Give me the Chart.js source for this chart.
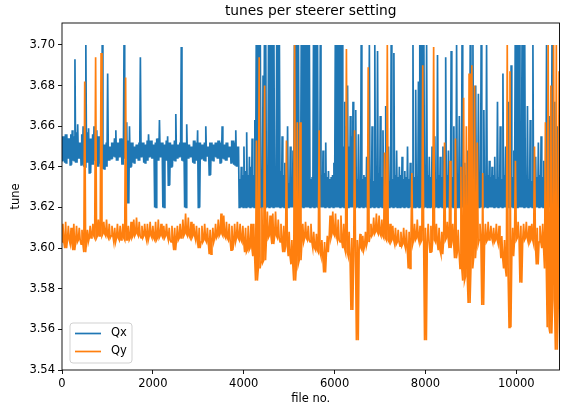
<!DOCTYPE html>
<html>
<head>
<meta charset="utf-8">
<title>tunes per steerer setting</title>
<script src="https://cdn.jsdelivr.net/npm/chart.js@4/dist/chart.umd.min.js"></script>
<style>
  html, body { margin: 0; padding: 0; background: #fff; }
  canvas { display: block; }
</style>
</head>
<body>
<canvas id="tuneChart" width="562" height="407"></canvas>
<script>
// Each entry covers a block of FILE_STEP files: lowest and highest tune seen in it.
const FILE_STEP = 60;
const FILE_MAX = 10950;

const qxMin = [
  3.643, 3.642, 3.644, 3.641, 3.643, 3.642, 3.644, 3.641, 3.640, 3.642,
  3.637, 3.641, 3.643, 3.640, 3.642, 3.639, 3.640, 3.643, 3.644, 3.645,
  3.643, 3.645, 3.641, 3.644, 3.622, 3.640, 3.642, 3.644, 3.643, 3.645,
  3.642, 3.643, 3.645, 3.644, 3.620, 3.643, 3.645, 3.620, 3.643, 3.631,
  3.640, 3.643, 3.644, 3.645, 3.643, 3.620, 3.644, 3.645, 3.642, 3.643,
  3.620, 3.644, 3.643, 3.645, 3.636, 3.643, 3.645, 3.644, 3.642, 3.644,
  3.643, 3.645, 3.642, 3.641, 3.640, 3.620, 3.620, 3.620, 3.620, 3.620,
  3.620, 3.620, 3.620, 3.620, 3.620, 3.620, 3.620, 3.620, 3.620, 3.620,
  3.620, 3.620, 3.620, 3.620, 3.620, 3.620, 3.620, 3.620, 3.620, 3.620,
  3.620, 3.620, 3.620, 3.620, 3.620, 3.620, 3.620, 3.620, 3.620, 3.620,
  3.620, 3.620, 3.620, 3.620, 3.620, 3.620, 3.620, 3.620, 3.620, 3.620,
  3.620, 3.620, 3.620, 3.620, 3.620, 3.620, 3.620, 3.620, 3.620, 3.620,
  3.620, 3.620, 3.620, 3.620, 3.620, 3.620, 3.620, 3.620, 3.620, 3.620,
  3.620, 3.620, 3.620, 3.620, 3.620, 3.620, 3.620, 3.620, 3.620, 3.620,
  3.620, 3.620, 3.620, 3.620, 3.620, 3.620, 3.620, 3.620, 3.620, 3.620,
  3.620, 3.620, 3.620, 3.620, 3.620, 3.620, 3.620, 3.620, 3.620, 3.620,
  3.620, 3.620, 3.620, 3.620, 3.620, 3.620, 3.620, 3.620, 3.620, 3.620,
  3.620, 3.620, 3.620, 3.620, 3.620, 3.620, 3.620, 3.620, 3.620, 3.620,
  3.620, 3.620, 3.620,
];

// top of the dense part of the Qx trace in each block (below the lone spikes)
const qxCore = [
  3.655, 3.656, 3.654, 3.656, 3.655, 3.657, 3.652, 3.656, 3.654, 3.657,
  3.654, 3.656, 3.655, 3.655, 3.654, 3.651, 3.652, 3.650, 3.652, 3.654,
  3.652, 3.654, 3.652, 3.655, 3.653, 3.652, 3.650, 3.651, 3.652, 3.652,
  3.651, 3.653, 3.653, 3.651, 3.652, 3.654, 3.652, 3.651, 3.653, 3.652,
  3.651, 3.653, 3.651, 3.652, 3.652, 3.652, 3.651, 3.650, 3.653, 3.652,
  3.652, 3.651, 3.652, 3.650, 3.652, 3.651, 3.652, 3.653, 3.652, 3.651,
  3.652, 3.650, 3.653, 3.652, 3.650, 3.634, 3.636, 3.638, 3.636, 3.640,
  3.636, 3.700, 3.700, 3.632, 3.700, 3.634, 3.700, 3.700, 3.634, 3.700,
  3.638, 3.636, 3.636, 3.632, 3.634, 3.700, 3.700, 3.634, 3.700, 3.700,
  3.700, 3.634, 3.700, 3.700, 3.633, 3.636, 3.637, 3.635, 3.634, 3.636,
  3.700, 3.700, 3.700, 3.650, 3.660, 3.650, 3.655, 3.650, 3.634, 3.633,
  3.634, 3.635, 3.633, 3.634, 3.633, 3.636, 3.637, 3.635, 3.636, 3.634,
  3.633, 3.634, 3.636, 3.635, 3.636, 3.634, 3.635, 3.634, 3.633, 3.635,
  3.634, 3.700, 3.700, 3.633, 3.636, 3.635, 3.636, 3.634, 3.636, 3.635,
  3.634, 3.636, 3.634, 3.635, 3.633, 3.634, 3.633, 3.635, 3.636, 3.633,
  3.634, 3.635, 3.634, 3.633, 3.635, 3.634, 3.636, 3.635, 3.636, 3.634,
  3.635, 3.634, 3.636, 3.634, 3.633, 3.635, 3.700, 3.700, 3.634, 3.700,
  3.635, 3.634, 3.633, 3.636, 3.635, 3.636, 3.635, 3.633, 3.634, 3.633,
  3.635, 3.634, 3.635,
];

const qxMax = [
  3.655, 3.656, 3.654, 3.658, 3.693, 3.661, 3.652, 3.660, 3.700, 3.659,
  3.654, 3.660, 3.658, 3.655, 3.700, 3.651, 3.686, 3.650, 3.652, 3.658,
  3.652, 3.654, 3.700, 3.662, 3.660, 3.652, 3.650, 3.651, 3.694, 3.652,
  3.651, 3.656, 3.653, 3.651, 3.654, 3.663, 3.652, 3.651, 3.655, 3.652,
  3.651, 3.666, 3.651, 3.699, 3.652, 3.661, 3.651, 3.650, 3.653, 3.658,
  3.652, 3.651, 3.660, 3.650, 3.652, 3.651, 3.652, 3.653, 3.660, 3.651,
  3.652, 3.650, 3.653, 3.658, 3.650, 3.640, 3.650, 3.657, 3.645, 3.654,
  3.663, 3.700, 3.700, 3.685, 3.700, 3.700, 3.700, 3.700, 3.700, 3.700,
  3.655, 3.642, 3.660, 3.650, 3.648, 3.700, 3.700, 3.700, 3.700, 3.700,
  3.700, 3.635, 3.700, 3.700, 3.700, 3.648, 3.652, 3.638, 3.635, 3.642,
  3.700, 3.700, 3.700, 3.672, 3.680, 3.665, 3.672, 3.668, 3.656, 3.700,
  3.636, 3.645, 3.700, 3.660, 3.700, 3.697, 3.665, 3.658, 3.670, 3.650,
  3.700, 3.696, 3.648, 3.640, 3.645, 3.638, 3.650, 3.642, 3.700, 3.678,
  3.682, 3.700, 3.700, 3.700, 3.645, 3.650, 3.655, 3.695, 3.645, 3.650,
  3.694, 3.648, 3.697, 3.660, 3.700, 3.665, 3.700, 3.642, 3.648, 3.700,
  3.700, 3.680, 3.676, 3.700, 3.668, 3.700, 3.643, 3.640, 3.645, 3.672,
  3.660, 3.686, 3.650, 3.672, 3.690, 3.648, 3.700, 3.700, 3.700, 3.700,
  3.670, 3.663, 3.700, 3.645, 3.652, 3.655, 3.643, 3.700, 3.665, 3.700,
  3.672, 3.660, 3.668,
];

const qyMin = [
  3.603, 3.600, 3.604, 3.602, 3.599, 3.603, 3.604, 3.602, 3.598, 3.603,
  3.605, 3.606, 3.605, 3.606, 3.606, 3.607, 3.606, 3.605, 3.606, 3.603,
  3.605, 3.604, 3.605, 3.604, 3.604, 3.605, 3.606, 3.607, 3.606, 3.605,
  3.606, 3.604, 3.606, 3.605, 3.604, 3.605, 3.606, 3.605, 3.606, 3.604,
  3.603, 3.599, 3.604, 3.605, 3.606, 3.607, 3.606, 3.605, 3.606, 3.604,
  3.600, 3.603, 3.604, 3.603, 3.597, 3.603, 3.605, 3.606, 3.607, 3.606,
  3.605, 3.604, 3.599, 3.603, 3.605, 3.604, 3.603, 3.598, 3.599, 3.600,
  3.596, 3.584, 3.590, 3.593, 3.594, 3.605, 3.606, 3.602, 3.606, 3.605,
  3.603, 3.598, 3.601, 3.596, 3.592, 3.584, 3.592, 3.594, 3.603, 3.605,
  3.604, 3.603, 3.600, 3.599, 3.598, 3.596, 3.588, 3.598, 3.605, 3.607,
  3.606, 3.604, 3.603, 3.600, 3.598, 3.596, 3.5695, 3.597, 3.5547, 3.600,
  3.599, 3.601, 3.603, 3.606, 3.607, 3.608, 3.607, 3.606, 3.605, 3.604,
  3.603, 3.604, 3.602, 3.603, 3.601, 3.602, 3.600, 3.590, 3.602, 3.604,
  3.605, 3.603, 3.604, 3.5547, 3.603, 3.598, 3.604, 3.603, 3.599, 3.597,
  3.604, 3.605, 3.600, 3.603, 3.595, 3.598, 3.590, 3.584, 3.586, 3.573,
  3.590, 3.595, 3.602, 3.604, 3.572, 3.603, 3.604, 3.605, 3.603, 3.604,
  3.602, 3.595, 3.590, 3.586, 3.561, 3.596, 3.604, 3.605, 3.583, 3.604,
  3.605, 3.603, 3.604, 3.602, 3.592, 3.603, 3.600, 3.590, 3.561, 3.558,
  3.575, 3.550, 3.570,
];

const qyMax = [
  3.612, 3.613, 3.611, 3.610, 3.612, 3.611, 3.610, 3.609, 3.682, 3.609,
  3.611, 3.612, 3.694, 3.614, 3.696, 3.613, 3.614, 3.612, 3.611, 3.610,
  3.612, 3.611, 3.612, 3.684, 3.611, 3.613, 3.614, 3.615, 3.613, 3.611,
  3.612, 3.612, 3.613, 3.611, 3.613, 3.614, 3.612, 3.611, 3.612, 3.610,
  3.611, 3.610, 3.611, 3.612, 3.614, 3.617, 3.615, 3.613, 3.612, 3.611,
  3.610, 3.611, 3.612, 3.610, 3.609, 3.610, 3.612, 3.614, 3.617, 3.616,
  3.613, 3.612, 3.611, 3.612, 3.613, 3.612, 3.611, 3.610, 3.611, 3.612,
  3.612, 3.653, 3.694, 3.620, 3.680, 3.618, 3.616, 3.617, 3.618, 3.614,
  3.612, 3.611, 3.653, 3.608, 3.604, 3.700, 3.662, 3.662, 3.612, 3.613,
  3.611, 3.612, 3.608, 3.607, 3.658, 3.604, 3.603, 3.606, 3.616, 3.618,
  3.617, 3.614, 3.616, 3.612, 3.698, 3.608, 3.605, 3.658, 3.604, 3.607,
  3.606, 3.608, 3.689, 3.612, 3.615, 3.617, 3.616, 3.614, 3.647, 3.700,
  3.612, 3.611, 3.610, 3.609, 3.608, 3.610, 3.609, 3.608, 3.637, 3.612,
  3.614, 3.611, 3.690, 3.610, 3.612, 3.611, 3.699, 3.612, 3.610, 3.608,
  3.652, 3.613, 3.643, 3.612, 3.654, 3.609, 3.640, 3.674, 3.660, 3.686,
  3.690, 3.680, 3.652, 3.612, 3.637, 3.612, 3.613, 3.611, 3.610, 3.612,
  3.611, 3.606, 3.604, 3.700, 3.687, 3.610, 3.643, 3.613, 3.611, 3.612,
  3.613, 3.611, 3.612, 3.650, 3.610, 3.611, 3.612, 3.662, 3.700, 3.680,
  3.700, 3.700, 3.687,
];

const xTicks = [0, 2000, 4000, 6000, 8000, 10000];
const yTicks = [3.54, 3.56, 3.58, 3.60, 3.62, 3.64, 3.66, 3.68, 3.70];

const BLUE = "#1f77b4";
const ORANGE = "#ff7f0e";
const FONT = '"DejaVu Sans", sans-serif';

// Walk each block min -> (core) -> min -> max so the dense part of the
// trace stays a solid band and the spikes stay thin lines.
function traceFrom(mins, maxs, cores) {
  var pts = [];
  for (let i = 0; i < mins.length; i++) {
    const x0 = i * FILE_STEP;
    if (cores) {
      pts.push({ x: x0, y: mins[i] });
      pts.push({ x: x0 + FILE_STEP / 4, y: cores[i] });
      pts.push({ x: x0 + FILE_STEP / 2, y: mins[i] });
      pts.push({ x: x0 + (3 * FILE_STEP) / 4, y: maxs[i] });
    } else {
      pts.push({ x: x0, y: mins[i] });
      pts.push({ x: x0 + FILE_STEP / 3, y: maxs[i] });
      pts.push({ x: x0 + (2 * FILE_STEP) / 3, y: mins[i] });
    }
  }
  return pts;
}

const figureDecor = {
  id: "figureDecor",
  beforeDraw(chart) {
    const ctx = chart.ctx;
    ctx.save();
    ctx.fillStyle = "#fff";
    ctx.fillRect(0, 0, chart.width, chart.height);
    ctx.restore();
  },
  afterDraw(chart) {
    const ctx = chart.ctx;
    const a = chart.chartArea;
    const midX = (a.left + a.right) / 2;
    ctx.save();

    // frame
    ctx.strokeStyle = "#000";
    ctx.lineWidth = 0.9;
    ctx.strokeRect(a.left, a.top, a.right - a.left, a.bottom - a.top);

    ctx.fillStyle = "#000";
    ctx.textAlign = "center";
    ctx.textBaseline = "middle";
    ctx.font = "13.8px " + FONT;
    ctx.fillText("tunes per steerer setting", midX, 11);

    ctx.font = "11.5px " + FONT;
    ctx.fillText("file no.", midX, 399);

    ctx.save();
    ctx.translate(16, (a.top + a.bottom) / 2);
    ctx.rotate(-Math.PI / 2);
    ctx.fillText("tune", 0, 0);
    ctx.restore();

    // legend, lower left
    const lx = a.left + 8, ly = a.bottom - 47, lw = 62, lh = 40, r = 3;
    ctx.beginPath();
    ctx.moveTo(lx + r, ly);
    ctx.arcTo(lx + lw, ly, lx + lw, ly + lh, r);
    ctx.arcTo(lx + lw, ly + lh, lx, ly + lh, r);
    ctx.arcTo(lx, ly + lh, lx, ly, r);
    ctx.arcTo(lx, ly, lx + lw, ly, r);
    ctx.closePath();
    ctx.fillStyle = "rgba(255,255,255,0.8)";
    ctx.fill();
    ctx.strokeStyle = "#cccccc";
    ctx.lineWidth = 0.9;
    ctx.stroke();

    const items = [["Qx", BLUE], ["Qy", ORANGE]];
    ctx.textAlign = "left";
    ctx.lineWidth = 1.7;
    items.forEach(function (it, k) {
      const yy = ly + 10.5 + k * 18;
      ctx.strokeStyle = it[1];
      ctx.beginPath();
      ctx.moveTo(lx + 5, yy);
      ctx.lineTo(lx + 31, yy);
      ctx.stroke();
      ctx.fillStyle = "#000";
      ctx.fillText(it[0], lx + 41, yy);
    });

    ctx.restore();
  },
};

const tickFont = { family: FONT, size: 11.5 };

new Chart(document.getElementById("tuneChart"), {
  type: "line",
  data: {
    datasets: [
      {
        label: "Qx",
        data: traceFrom(qxMin, qxMax, qxCore),
        borderColor: BLUE,
        borderWidth: 1.7,
        pointRadius: 0,
        tension: 0,
        order: 1,
      },
      {
        label: "Qy",
        data: traceFrom(qyMin, qyMax),
        borderColor: ORANGE,
        borderWidth: 1.7,
        pointRadius: 0,
        tension: 0,
        order: 0,
      },
    ],
  },
  options: {
    responsive: false,
    animation: false,
    devicePixelRatio: 1,
    layout: { padding: { top: 23, right: 2.5, left: 0, bottom: 0 } },
    plugins: {
      legend: { display: false },
      title: { display: false },
      tooltip: { enabled: false },
    },
    scales: {
      x: {
        type: "linear",
        min: 0,
        max: FILE_MAX,
        border: { display: false },
        grid: { drawOnChartArea: false, drawTicks: true, tickLength: 4, color: "#000", lineWidth: 0.9 },
        ticks: { font: tickFont, color: "#000", padding: 3, maxRotation: 0, callback: (v) => String(v) },
        afterBuildTicks: (s) => { s.ticks = xTicks.map((v) => ({ value: v })); },
        afterFit: (s) => { s.height = 37; },
      },
      y: {
        type: "linear",
        min: 3.54,
        max: 3.7108,
        border: { display: false },
        grid: { drawOnChartArea: false, drawTicks: true, tickLength: 4, color: "#000", lineWidth: 0.9 },
        ticks: { font: tickFont, color: "#000", padding: 3, callback: (v) => Number(v).toFixed(2) },
        afterBuildTicks: (s) => { s.ticks = yTicks.map((v) => ({ value: v })); },
        afterFit: (s) => { s.width = 62; },
      },
    },
  },
  plugins: [figureDecor],
});
</script>
</body>
</html>
